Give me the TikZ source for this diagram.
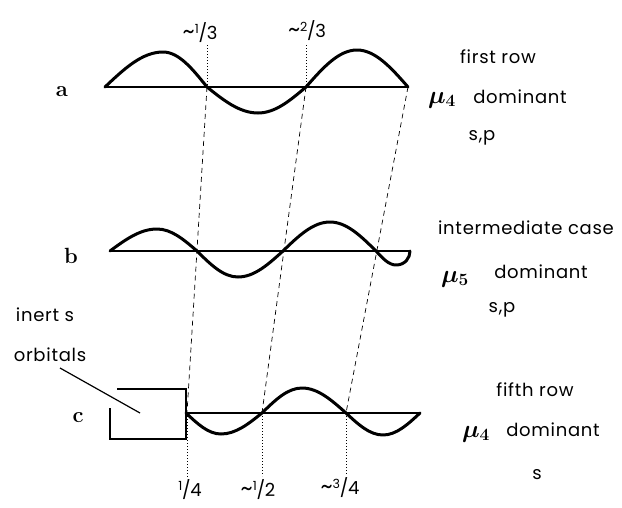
\documentclass[tikz,border=0pt]{standalone}
\usepackage{fontspec}
\setsansfont{Poppins}[LetterSpace=4]
\usepackage{tikz}
\usetikzlibrary{positioning,calc}

\newcommand{\apx}{\scalebox{1.3}{\textasciitilde}}
\newcommand{\frc}[2]{\textsuperscript{#1}\kern-0.04em/\kern-0.02em#2}

\begin{document}
\begin{tikzpicture}[x=1pt,y=-1pt,
    every node/.style={font=\sffamily\fontsize{18}{21}\selectfont, inner sep=1pt},
    rowlbl/.style={font=\rmfamily\bfseries\fontsize{22}{24}\selectfont},
    frac/.style={font=\sffamily\fontsize{18}{20}\selectfont},
    mu/.style={font=\boldmath\fontsize{24}{26}\selectfont},
    wave/.style={line width=3pt, line join=round, line cap=round},
    axis/.style={line width=1.2pt},
    guide/.style={dash pattern=on 5pt off 4pt, line width=0.7pt},
    tick/.style={dash pattern=on 1pt off 2pt, line width=0.7pt},
  ]
  \useasboundingbox (0,0) rectangle (622,507);

  % ── Nodal points on the three axes ───────────────────
  \coordinate (a1) at (207,87);
  \coordinate (a2) at (306,87);
  \coordinate (a3) at (408,87);
  \coordinate (c1) at (187,413);
  \coordinate (c2) at (262,413);
  \coordinate (c3) at (346,413);

  % ── Row a ────────────────────────────────────────────
  \node[rowlbl] (la) at (62,92) {a};
  \draw[axis] (105,87) -- (a3);
  \draw[wave] (105,87) sin (163,52) cos (a1) sin (258,113) cos (a2)
    sin (357,50) cos (a3);

  % ── Row b ────────────────────────────────────────────
  \node[rowlbl] (lb) at (71,256) {b};
  \draw[axis] (110,251) -- (410,251);
  \draw[wave] (110,251) sin (157,229) cos (197,251) sin (238,277) cos (283,251)
    sin (330,222) cos (376,251) sin (396,265)
    .. controls (405,265) and (410,258) .. (410,251);

  % ── Row c (with inert s box) ─────────────────────────
  \node[rowlbl] (lc) at (78,418) {c};
  \draw[axis] (117,389) -- (186,389) -- (186,439) -- (110,439) -- (110,408);
  \draw[axis] (186,413) -- (420,413);
  \draw[wave] (186,413) sin (221,434) cos (c2) sin (302,388) cos (c3)
    sin (383,435) cos (420,413);

  \node (inert) at (45,315) {inert s};
  \node (orbit) at (50,355) {orbitals};
  \coordinate (lead) at (60,368);
  \coordinate (boxin) at (140,413);
  \draw[axis] (lead) -- (boxin);

  % ── Dashed guides through the nodes ──────────────────
  \draw[guide] (a1) -- (c1);
  \draw[guide] (a2) -- (c2);
  \draw[guide] (a3) -- (c3);

  % ── Fractions ────────────────────────────────────────
  \node[frac] (t13) at (200,33) {\apx\frc{1}{3}};
  \node[frac] (t23) at (307,31) {\apx\frc{2}{3}};
  \node[frac] (q14) at (190,490) {\frc{1}{4}};
  \node[frac] (q12) at (258,490) {\apx\frc{1}{2}};
  \node[frac] (q34) at (340,488) {\apx\frc{3}{4}};

  \draw[tick] (a1 |- 0,45) -- (a1);
  \draw[tick] (a2 |- 0,45) -- (a2);
  \draw[tick] (c1) -- (c1 |- 0,479);
  \draw[tick] (c2) -- (c2 |- 0,476);
  \draw[tick] (c3) -- (c3 |- 0,475);

  % ── Right-hand captions ──────────────────────────────
  \node (ra1) at (498,57) {first row};
  \node[mu] (ra2) at (442,100) {$\mu_4$};
  \node (ra3) at (520,97) {dominant};
  \node (ra4) at (482,138) {s,p};

  \node (rb1) at (526,228) {intermediate case};
  \node[mu] (rb2) at (455,279) {$\mu_5$};
  \node (rb3) at (541,272) {dominant};
  \node (rb4) at (502,310) {s,p};

  \node (rc1) at (535,390) {fifth row};
  \node[mu] (rc2) at (476,434) {$\mu_4$};
  \node (rc3) at (553,430) {dominant};
  \node (rc4) at (537,475) {s};

\end{tikzpicture}
\end{document}
